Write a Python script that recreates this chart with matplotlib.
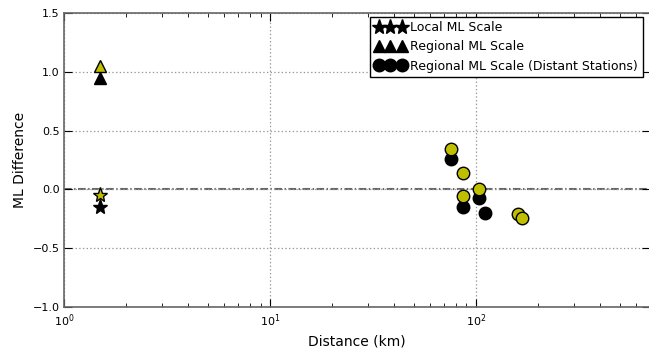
import matplotlib
matplotlib.use("Agg")
import matplotlib.pyplot as plt

# Data
local_dist = [1.5]
local_yellow = [-0.05]
local_black = [-0.15]

regional_dist = [1.5]
regional_yellow = [1.05]
regional_black = [0.95]

distant_dist_black = [75.6, 103.5, 86.5, 110.6]
distant_black = [0.255, -0.077, -0.145, -0.204]
distant_dist_yellow = [75.6, 86.5, 103.5, 86.5, 160.0, 167.0]
distant_yellow = [0.34, 0.136, 0.0, -0.06, -0.21, -0.245]

yellow = (0.75, 0.75, 0.0)

plt.rcParams['lines.scale_dashes'] = False

fig = plt.figure(figsize=(6.49, 3.49), dpi=100)
ax = fig.add_axes([0.099, 0.12, 0.902, 0.843])

ax.axhline(0, color='0.4', linestyle='-.', linewidth=1.5, dashes=(5.5, 1.8, 1.0, 1.8), zorder=1)

ms = 9
ax.plot(local_dist, local_black, linestyle='none', marker='*', color='k', markersize=11,
        markeredgecolor='k', label='Local ML Scale', zorder=3)
ax.plot(local_dist, local_yellow, linestyle='none', marker='*', color=yellow, markersize=11,
        markeredgecolor='k', zorder=4)
ax.plot(regional_dist, regional_black, linestyle='none', marker='^', color='k', markersize=ms,
        markeredgecolor='k', label='Regional ML Scale', zorder=3)
ax.plot(regional_dist, regional_yellow, linestyle='none', marker='^', color=yellow, markersize=ms,
        markeredgecolor='k', zorder=4)
ax.plot(distant_dist_black, distant_black, linestyle='none', marker='o', color='k', markersize=ms,
        markeredgecolor='k', label='Regional ML Scale (Distant Stations)', zorder=3)
ax.plot(distant_dist_yellow, distant_yellow, linestyle='none', marker='o', color=yellow, markersize=ms,
        markeredgecolor='k', zorder=4)

ax.set_xscale('log')
ax.set_xlim(1, 700)
ax.set_ylim(-1.0, 1.5)
ax.set_yticks([-1.0, -0.5, 0.0, 0.5, 1.0, 1.5])
ax.grid(True, which='major', linestyle=':', color='0.6', linewidth=0.9)
ax.tick_params(which='both', direction='in', top=True, right=True, labelsize=8)
ax.tick_params(which='major', length=6)
ax.tick_params(which='minor', length=3)
for s in ax.spines.values():
    s.set_color('0.4')
    s.set_linewidth(1.2)

ax.set_xlabel('Distance (km)', fontsize=10)
ax.set_ylabel('ML Difference', fontsize=10)

leg = ax.legend(loc='upper right', bbox_to_anchor=(0.988, 0.987), numpoints=3, fontsize=9,
                fancybox=False, handletextpad=0.35, borderaxespad=0.0, labelspacing=0.5,
                framealpha=1, handlelength=2.5, borderpad=0.35)
leg.get_frame().set_edgecolor('k')

fig.savefig('out.png', dpi=100)
